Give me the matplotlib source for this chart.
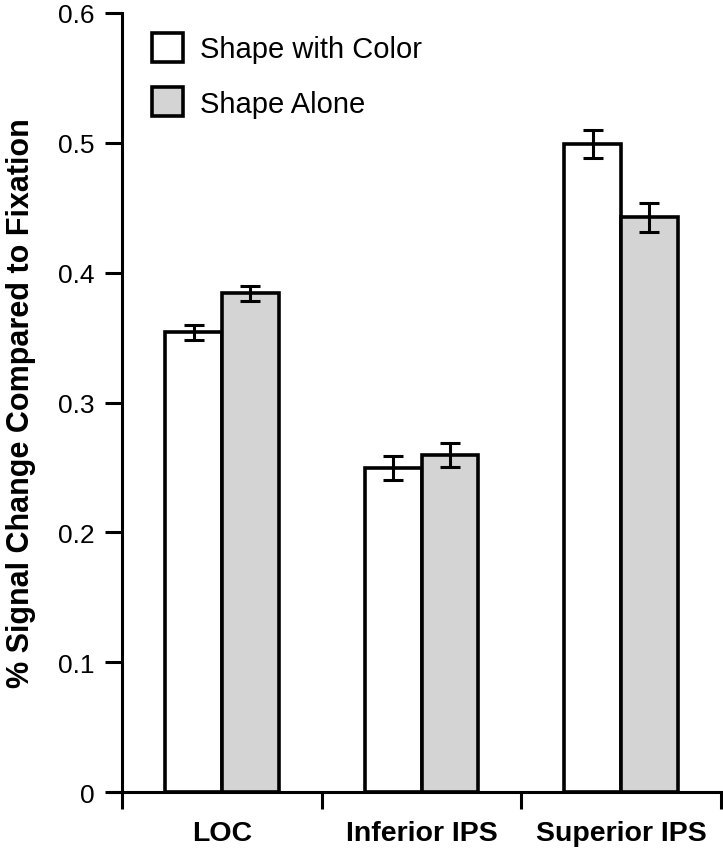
import numpy as np
import matplotlib.pyplot as plt

regions = ["LOC", "Inferior IPS", "Superior IPS"]
with_color = [0.354, 0.2495, 0.499]
with_color_err = [0.006, 0.0095, 0.0105]
alone = [0.384, 0.2595, 0.4425]
alone_err = [0.0055, 0.0095, 0.011]
yticks = [0, 0.1, 0.2, 0.3, 0.4, 0.5, 0.6]
ytick_labels = ["0", "0.1", "0.2", "0.3", "0.4", "0.5", "0.6"]

plt.rcParams['font.family'] = ['Liberation Sans', 'DejaVu Sans']

fig = plt.figure(figsize=(7.23, 8.53), dpi=100)
ax = fig.add_axes([0.169, 0.0703, 0.828, 0.9133])

x = np.arange(len(regions))
w = 0.285
lw = 2.6
ax.bar(x - w / 2, with_color, w, color='white', edgecolor='black', linewidth=lw,
       label='Shape with Color', zorder=2)
ax.bar(x + w / 2, alone, w, color='#d4d4d4', edgecolor='black', linewidth=lw,
       label='Shape Alone', zorder=2)
ax.errorbar(x - w / 2, with_color, yerr=with_color_err, fmt='none', ecolor='black',
            elinewidth=2.2, capsize=7, capthick=2.2, zorder=3)
ax.errorbar(x + w / 2, alone, yerr=alone_err, fmt='none', ecolor='black',
            elinewidth=2.2, capsize=7, capthick=2.2, zorder=3)

ax.set_xlim(-0.5, 2.5)
ax.set_ylim(0, 0.6)
ax.set_yticks(yticks)
ax.set_yticklabels(ytick_labels, fontsize=19)
ax.set_xticks([-0.5, 0.5, 1.5, 2.5])
ax.set_xticklabels([])
ax.set_xticks(x, minor=True)
ax.set_xticklabels(regions, minor=True, fontsize=20.5, fontweight='bold')
ax.tick_params(axis='x', which='minor', length=0, pad=20)
ax.tick_params(axis='x', which='major', direction='out', length=12, width=2.2)
ax.tick_params(axis='y', direction='out', length=12, width=2.2, pad=8)

for side in ['top', 'right']:
    ax.spines[side].set_visible(False)
for side in ['left', 'bottom']:
    ax.spines[side].set_linewidth(2.2)
ax.spines['bottom'].set_bounds(-0.56, 2.5)

ax.set_ylabel('% Signal Change Compared to Fixation', fontsize=22, fontweight='bold',
              labelpad=16)

ax.legend(loc='upper left', bbox_to_anchor=(0.05, 0.974), frameon=False, fontsize=21,
          borderaxespad=0, borderpad=0,
          handlelength=1.06, handleheight=1.13, handletextpad=0.58, labelspacing=0.82)

fig.savefig('out.png', dpi=100)
